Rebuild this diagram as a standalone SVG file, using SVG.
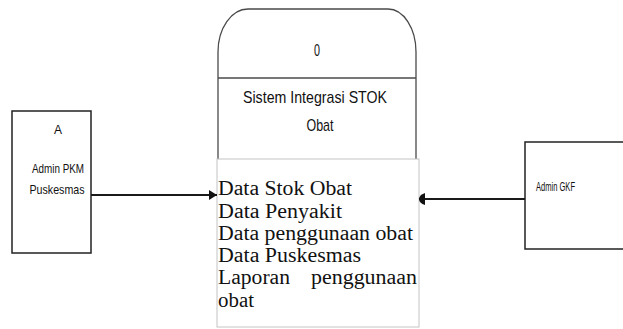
<svg xmlns="http://www.w3.org/2000/svg" width="623" height="329" viewBox="0 0 623 329">
  <style>
    .entity { fill: #ffffff; stroke: #222222; stroke-width: 1.5; }
    .process { fill: #ffffff; stroke: #4a4a4a; stroke-width: 1.3; }
    .store { fill: #ffffff; stroke: #c4c4c4; stroke-width: 1; }
    .flow { fill: none; stroke: #1a1a1a; stroke-width: 2.2; }
    .sans { font-family: "Liberation Sans", Arial, sans-serif; fill: #111111; }
    .serif { font-family: "Liberation Serif", "Times New Roman", serif; font-size: 20px; fill: #111111; }
  </style>
  <defs>
    <marker id="head" viewBox="0 0 8 10" refX="8" refY="5" markerWidth="8" markerHeight="10" markerUnits="userSpaceOnUse" orient="auto">
      <path d="M0,0 L8,5 L0,10 Z" fill="#111111"/>
    </marker>
    <marker id="headRound" viewBox="0 0 6 12" refX="6" refY="6" markerWidth="6" markerHeight="12" markerUnits="userSpaceOnUse" orient="auto">
      <path d="M0,0 Q6,2 6,6 Q6,10 0,12 Z" fill="#111111"/>
    </marker>
  </defs>

  <!-- External entity: Admin PKM Puskesmas -->
  <g id="entity-admin-pkm">
    <rect class="entity" x="12" y="111" width="79" height="142"/>
    <text class="sans" x="58" y="134" font-size="13" text-anchor="middle" textLength="8" lengthAdjust="spacingAndGlyphs">A</text>
    <text class="sans" x="58" y="173" font-size="13" text-anchor="middle" textLength="52" lengthAdjust="spacingAndGlyphs">Admin PKM</text>
    <text class="sans" x="57" y="194" font-size="13" text-anchor="middle" textLength="55" lengthAdjust="spacingAndGlyphs">Puskesmas</text>
  </g>

  <!-- External entity: Admin GKF -->
  <g id="entity-admin-gkf">
    <rect class="entity" x="525" y="142" width="105" height="107"/>
    <text class="sans" x="536" y="191" font-size="13" textLength="39" lengthAdjust="spacingAndGlyphs">Admin GKF</text>
  </g>

  <!-- Process 0 -->
  <g id="process-0">
    <path class="process" d="M218,160 L218,52 A30,43 0 0 1 248,9 L388,9 A28,43 0 0 1 416,52 L416,160"/>
    <line class="process" x1="218" y1="78" x2="416" y2="78"/>
    <text class="sans" x="317" y="56" font-size="17" text-anchor="middle" textLength="6" lengthAdjust="spacingAndGlyphs">0</text>
    <text class="sans" x="315" y="103" font-size="17" text-anchor="middle" textLength="144" lengthAdjust="spacingAndGlyphs">Sistem Integrasi STOK</text>
    <text class="sans" x="320" y="131" font-size="17" text-anchor="middle" textLength="27" lengthAdjust="spacingAndGlyphs">Obat</text>
  </g>

  <!-- Data list -->
  <g id="data-list">
    <rect class="store" x="217" y="159" width="202" height="168"/>
    <text class="serif" x="218" y="195" textLength="134" lengthAdjust="spacingAndGlyphs">Data Stok Obat</text>
    <text class="serif" x="218" y="218" textLength="124" lengthAdjust="spacingAndGlyphs">Data Penyakit</text>
    <text class="serif" x="218" y="240" textLength="195" lengthAdjust="spacingAndGlyphs">Data penggunaan obat</text>
    <text class="serif" x="218" y="262" textLength="143" lengthAdjust="spacingAndGlyphs">Data Puskesmas</text>
    <text class="serif" x="218" y="284" textLength="72" lengthAdjust="spacingAndGlyphs">Laporan</text>
    <text class="serif" x="417" y="284" text-anchor="end" textLength="106" lengthAdjust="spacingAndGlyphs">penggunaan</text>
    <text class="serif" x="218" y="307" textLength="36" lengthAdjust="spacingAndGlyphs">obat</text>
  </g>

  <!-- Data flows -->
  <g id="connectors">
    <line class="flow" x1="91" y1="195" x2="217" y2="195" marker-end="url(#head)"/>
    <line class="flow" x1="525" y1="199" x2="419" y2="199" marker-end="url(#headRound)"/>
  </g>
</svg>
